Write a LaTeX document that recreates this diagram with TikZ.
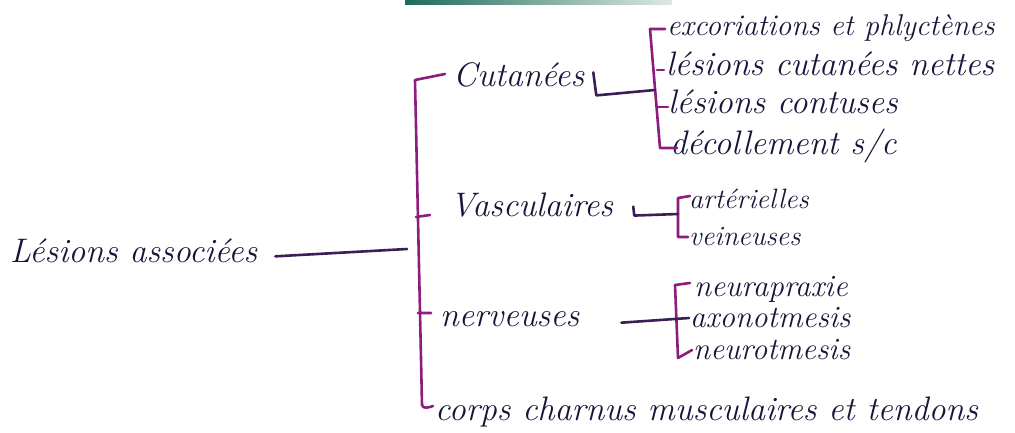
\documentclass[tikz,border=0pt]{standalone}
\usepackage{fontspec}
\usepackage{tikz}
\usetikzlibrary{positioning,calc}
\definecolor{ink}{HTML}{17163A}
\definecolor{brk}{HTML}{8C1D7E}
\definecolor{wire}{HTML}{3A1E55}
\definecolor{band}{HTML}{1E6B58}

\begin{document}
\begin{tikzpicture}[x=1pt,y=-1pt,font=\fontsize{34}{40}\selectfont\itshape,
  lbl/.style={anchor=base west,inner sep=0pt,text=ink},
  lblsm/.style={lbl,font=\fontsize{28}{34}\selectfont\itshape},
  lblmd/.style={lbl,font=\fontsize{31}{37}\selectfont\itshape},
  brace/.style={draw=brk,line width=2.6pt,line cap=round,line join=round},
  wire/.style={draw=wire,line width=2.6pt,line cap=round,line join=round}]
  \useasboundingbox (0,0) rectangle (1015,432);
  \fill[left color=band,right color=band!15] (405,0) rectangle (672,4);
  % labels
  \node[lbl] (root) at (10,262) {Lésions associées};
  \node[lbl] (cut) at (453,86) {Cutanées};
  \node[lbl] (vas) at (450,216) {Vasculaires};
  \node[lbl] (ner) at (440,326) {nerveuses};
  \node[lbl] (corps) at (435,420) {corps charnus musculaires et tendons};
  \node[lbl,font=\fontsize{30}{36}\selectfont\itshape] (c1) at (667,35) {excoriations et phlyctènes};
  \node[lbl] (c2) at (666,75) {lésions cutanées nettes};
  \node[lbl] (c3) at (668,113) {lésions contuses};
  \node[lbl] (c4) at (670,154) {décollement s/c};
  \node[lblsm] (v1) at (689,208) {artérielles};
  \node[lblsm] (v2) at (689,245) {veineuses};
  \node[lblmd] (n1) at (694,296) {neurapraxie};
  \node[lblmd] (n2) at (690,327) {axonotmesis};
  \node[lblmd] (n3) at (693,359) {neurotmesis};
  % brackets
  \coordinate (mj) at (418,249);
  \coordinate (cj) at (655,90);
  \coordinate (vj) at (678,214);
  \coordinate (nj) at (689,318);
  \draw[brace] (445,74) -- (415,80) -- (422,405) to[out=-80,in=200] (433,406);
  \draw[brace] (416,217) -- (430,215) (418,313) -- (431,313);
  \draw[brace] (665,29) -- (650,29) -- (660,148) -- (677,148);
  \draw[brace] (657,70) -- (664,70) (658,107) -- (668,107);
  \draw[brace] (690,196) -- (678,198) -- (678,237) -- (688,237);
  \draw[brace] (690,283) -- (675,285) -- (678,358) -- (692,350);
  % connectors
  \draw[wire] ([xshift=18pt,yshift=-6pt]root.east) -- ([xshift=-11pt]mj);
  \draw[wire] ([xshift=9pt,yshift=2pt]cut.east) -- ++(3,23) -- (cj);
  \draw[wire] ([xshift=20pt,yshift=-2pt]vas.east) -- ++(1,9) -- (vj);
  \draw[wire] ([xshift=42pt,yshift=-4pt]ner.east) -- (nj);
\end{tikzpicture}
\end{document}
